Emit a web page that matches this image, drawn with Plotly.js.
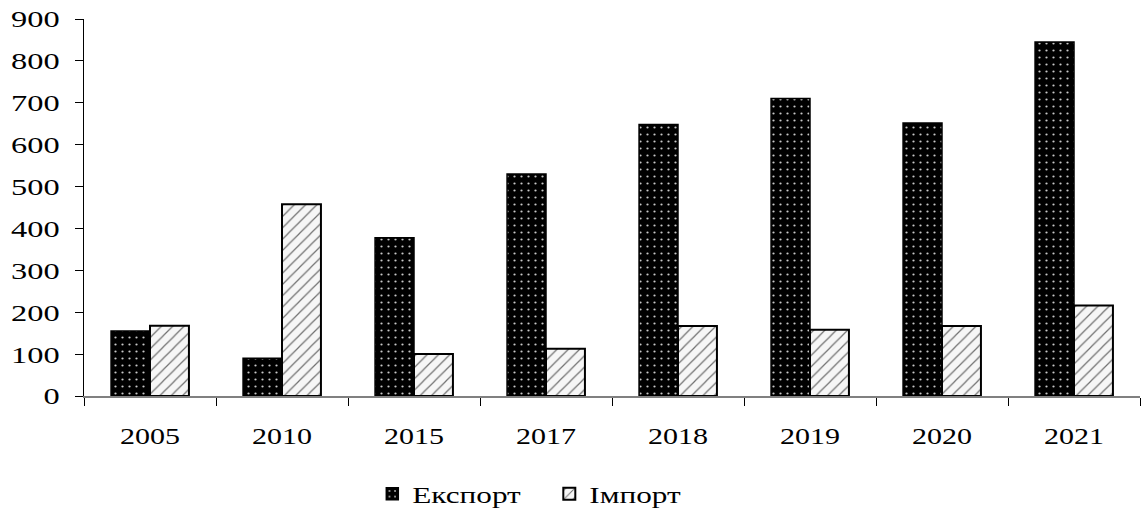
<!DOCTYPE html>
<html><head><meta charset="utf-8">
<script src="https://cdn.plot.ly/plotly-3.0.1.min.js"></script>
<style>html,body{margin:0;padding:0;background:#fff}#c{width:1142px;height:510px}</style>
</head><body><div id="c"></div>
<script>
const years = ['2005','2010','2015','2017','2018','2019','2020','2021'];
const exportVals = [155, 90, 378, 530, 648, 710, 652, 845];
const importVals = [168, 458, 100, 113, 167, 158, 167, 216];
const yTicks = [0,100,200,300,400,500,600,700,800,900];

const font = {family: '"Liberation Serif", "Times New Roman", serif', size: 24, color: '#000'};
const traces = [
  {type:'bar', name:'Експорт', x: years, y: exportVals,
   marker:{color:'#000', line:{color:'#000', width:1.5},
     pattern:{shape:'.', fgcolor:'#c8c8c8', bgcolor:'#000000', size:7, solidity:0.08, fillmode:'replace'}}},
  {type:'bar', name:'Імпорт', x: years, y: importVals,
   marker:{color:'#fff', line:{color:'#000', width:2},
     pattern:{shape:'/', fgcolor:'#707070', bgcolor:'#f6f6f6', size:8, solidity:0.15, fillmode:'replace'}}}
];
const layout = {
  width:1142, height:510,
  margin:{l:84, r:2, t:19, b:114, autoexpand:false},
  paper_bgcolor:'#fff', plot_bgcolor:'#fff',
  font: font,
  barmode:'group', bargap:0.41, bargroupgap:0,
  showlegend:true,
  legend:{orientation:'h', x:0.481, xanchor:'center', xref:'container', y:0.031, yanchor:'middle', yref:'container',
    font:font, traceorder:'normal', entrywidth:132, itemwidth:30},
  xaxis:{type:'category', showline:true, linecolor:'#808080', linewidth:1.5, automargin:false,
    ticks:'outside', tickson:'boundaries', ticklen:8, tickcolor:'#000', tickwidth:1,
    ticklabelstandoff:18, showgrid:false, zeroline:false, tickfont:font},
  yaxis:{range:[0,900], tickvals:yTicks, ticktext:yTicks.map(String), showline:true, linecolor:'#000', linewidth:1.5,
    ticks:'outside', ticklen:8, tickcolor:'#000', tickwidth:1, showgrid:false, zeroline:false, automargin:false,
    ticklabelstandoff:10, tickfont:font}
};
Plotly.newPlot('c', traces, layout, {displayModeBar:false, staticPlot:true}).then(gd => {
  const stretch = (sel, k) => gd.querySelectorAll(sel).forEach(t => {
    const w = t.getComputedTextLength();
    t.setAttribute('textLength', (w * k).toFixed(1));
    t.setAttribute('lengthAdjust', 'spacingAndGlyphs');
  });
  stretch('.xtick text', 1.25);
  stretch('.ytick text', 1.35);
  stretch('.legendtext', 1.3);
});
</script></body></html>
